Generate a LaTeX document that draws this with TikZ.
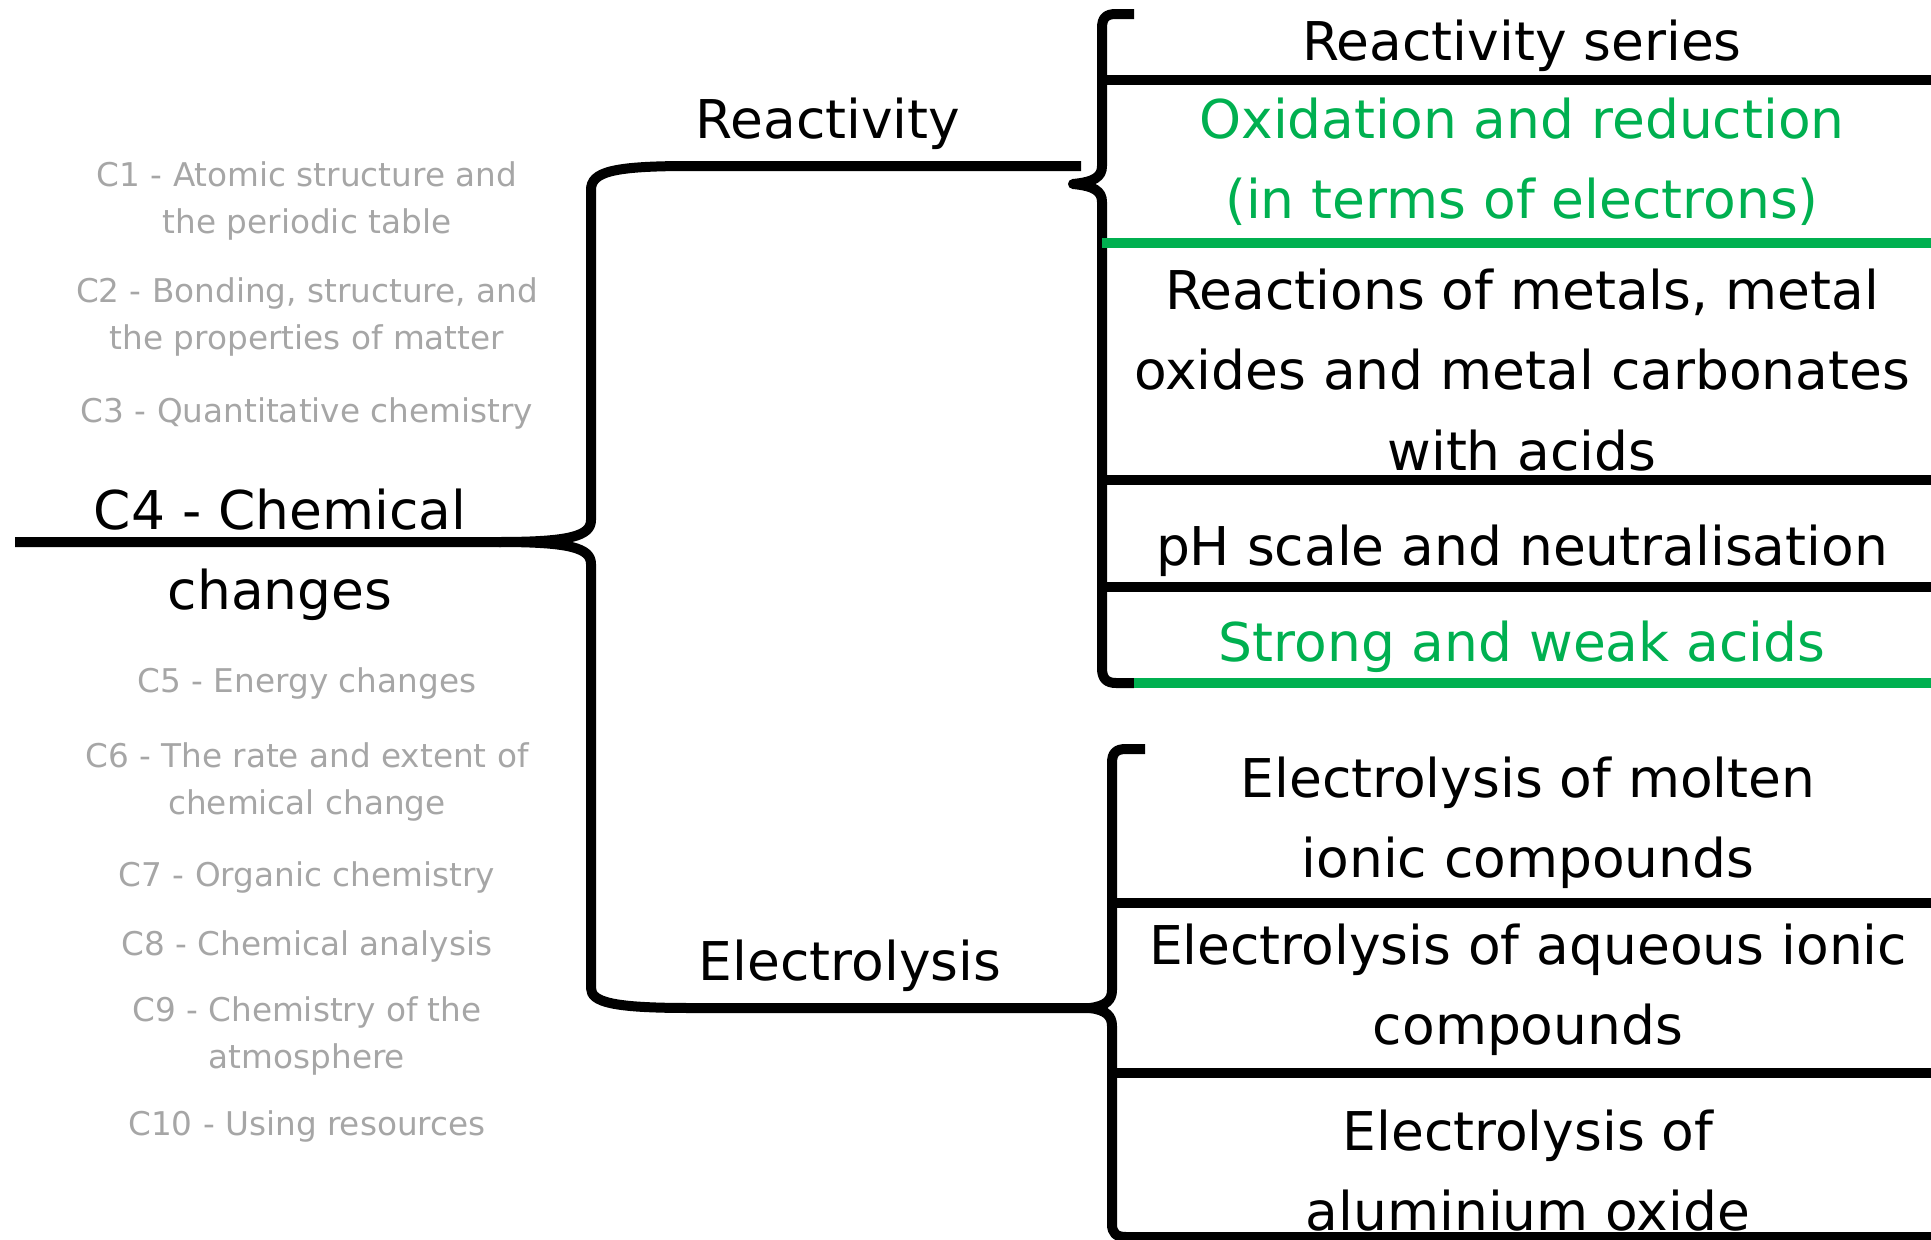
\documentclass[tikz,border=0pt]{standalone}
\usepackage{fontspec}
\setmainfont{DejaVu Sans}
\usepackage{tikz}

\definecolor{topicgreen}{RGB}{0,176,80}
\definecolor{othergrey}{RGB}{166,166,166}

\tikzset{
	bar/.style={line width=1mm, line join=round},
	greenbar/.style={line width=1mm, draw=topicgreen},
	topic/.style={font=\fontsize{15.2}{22.8}\selectfont, align=center, inner sep=0pt},
	other/.style={font=\fontsize{9.3}{13.6}\selectfont, align=center, text=othergrey, inner sep=0pt},
}

\begin{document}
\begin{tikzpicture}[x=0.1mm,y=-0.1mm]
	\useasboundingbox (0,0) rectangle (1931,1240);

	\node[other] (c1) at (307,201) {C1 - Atomic structure and\\the periodic table};
	\node[other] (c2) at (307,317) {C2 - Bonding, structure, and\\the properties of matter};
	\node[other] (c3) at (307,413) {C3 - Quantitative chemistry};
	\node[other] (c5) at (307,683) {C5 - Energy changes};
	\node[other] (c6) at (307,782) {C6 - The rate and extent of\\chemical change};
	\node[other] (c7) at (307,877) {C7 - Organic chemistry};
	\node[other] (c8) at (307,946) {C8 - Chemical analysis};
	\node[other] (c9) at (307,1036) {C9 - Chemistry of the\\atmosphere};
	\node[other] (c10) at (307,1126) {C10 - Using resources};

	\node[topic] (c4) at (280,555) {C4 - Chemical\\changes};
	\node[topic] (react) at (828,124) {Reactivity};
	\node[topic] (elec) at (850,966) {Electrolysis};

	\node[topic] (series) at (1522,46) {Reactivity series};
	\node[topic, text=topicgreen] (redox) at (1522,162) {Oxidation and reduction\\(in terms of electrons)};
	\node[topic] (metals) at (1522,370) {Reactions of metals, metal\\oxides and metal carbonates\\with acids};
	\node[topic] (ph) at (1522,551) {pH scale and neutralisation};
	\node[topic, text=topicgreen] (acids) at (1522,647) {Strong and weak acids};
	\node[topic] (molten) at (1528,823) {Electrolysis of molten\\ionic compounds};
	\node[topic] (aqueous) at (1528,990) {Electrolysis of aqueous ionic\\compounds};
	\node[topic] (alox) at (1528,1171) {Electrolysis of\\aluminium oxide};

	\coordinate (start) at (15,542);
	\coordinate (tip) at (499,542);
	\coordinate (rend) at (1081,166);
	\coordinate (eend) at (1108,1008);

	\draw[bar] (start) -- (tip) .. controls (570,542) and (591,536) .. (591,520) -- (591,190)
		.. controls (591,172) and (612,166) .. (690,166) -- (rend);
	\draw[bar] (tip) .. controls (570,542) and (591,548) .. (591,564) -- (591,988)
		.. controls (591,1002) and (612,1008) .. (690,1008) -- (eend);

	\draw[bar] (1134,14) -- (1116,14) .. controls (1106,14) and (1102,18) .. (1102,28) -- (1102,166)
		.. controls (1102,177) and (1094,182) .. (1073,184) .. controls (1094,186) and (1102,191) .. (1102,202)
		-- (1102,668) .. controls (1102,678) and (1106,683) .. (1116,683) -- (1134,683);
	\draw[bar] (1145,749) -- (1126,749) .. controls (1116,749) and (1112,753) .. (1112,763) -- (1112,990)
		.. controls (1112,1000) and (1106,1006) .. (1090,1008) .. controls (1106,1010) and (1112,1016) .. (1112,1026)
		-- (1112,1224) .. controls (1112,1233) and (1116,1237) .. (1126,1237) -- (1931,1237);

	\coordinate (u1) at (1102,80);
	\coordinate (u1e) at (1931,80);
	\coordinate (u3) at (1102,480);
	\coordinate (u3e) at (1931,480);
	\coordinate (u4) at (1102,587);
	\coordinate (u4e) at (1931,587);
	\coordinate (l1) at (1112,903);
	\coordinate (l1e) at (1931,903);
	\coordinate (l2) at (1112,1073);
	\coordinate (l2e) at (1931,1073);
	\coordinate (g1) at (1102,243);
	\coordinate (g1e) at (1931,243);
	\coordinate (g2) at (1134,683);
	\coordinate (g2e) at (1931,683);

	\path[bar]
	(u1) edge (u1e)
	(u3) edge (u3e)
	(u4) edge (u4e)
	(l1) edge (l1e)
	(l2) edge (l2e);
	\path[greenbar]
	(g1) edge (g1e)
	(g2) edge (g2e);
\end{tikzpicture}
\end{document}
